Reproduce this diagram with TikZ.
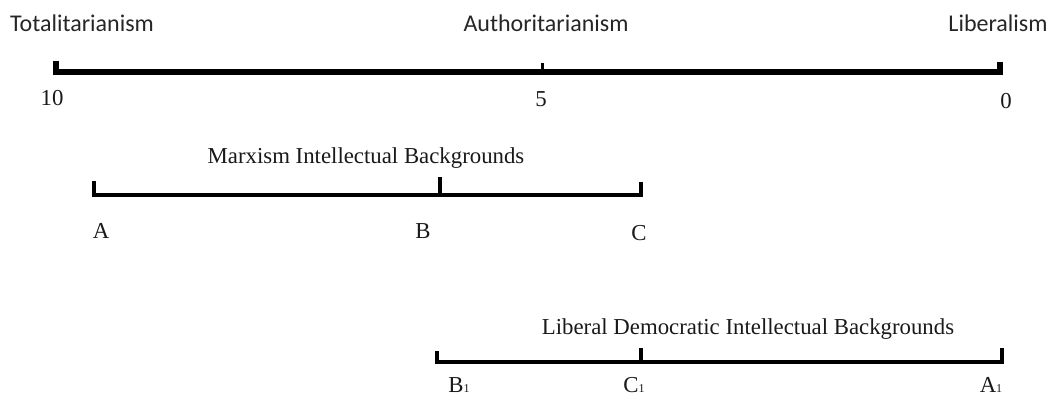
\documentclass[tikz,border=0pt]{standalone}
\usepackage{fontspec}
\setmainfont{Liberation Serif}
\newfontfamily\headfont{Carlito}
\begin{document}
\begin{tikzpicture}[x=1pt,y=-1pt,
  mainline/.style={line width=6pt,line join=miter,line cap=butt},
  subline/.style={line width=3.5pt,line join=miter,line cap=butt},
  head/.style={inner sep=0pt,anchor=base,font=\headfont\fontsize{24}{24}\selectfont,text=black!85},
  lab/.style={inner sep=0pt,anchor=base,font=\fontsize{22.8}{22.8}\selectfont,text=black!90}]
\useasboundingbox (0,0) rectangle (1054,398);
% main scale
\coordinate (m10top) at (55.5,61);
\coordinate (m10) at (55.5,72);
\coordinate (m5top) at (542,63);
\coordinate (m5) at (542,72);
\coordinate (m0) at (999.5,72);
\coordinate (m0top) at (999.5,62);
\draw[mainline] (m10top) -- (m10) -- (m0) -- (m0top);
\draw[line width=3pt] (m5) -- (m5top);
\node[head] (tot) at (82,32) {Totalitarianism};
\node[head] (aut) at (546,32) {Authoritarianism};
\node[head] (lib) at (998,32) {Liberalism};
\node[lab] (n10) at (52,106) {10};
\node[lab] (n5) at (541,107) {5};
\node[lab] (n0) at (1006,109) {0};
% Marxism
\coordinate (atop) at (94,181);
\coordinate (a) at (94,195);
\coordinate (btop) at (440,177);
\coordinate (b) at (440,195);
\coordinate (c) at (641,195);
\coordinate (ctop) at (641,182);
\draw[subline] (atop) -- (a) -- (c) -- (ctop);
\draw[subline] (b) -- (btop);
\node[lab] (mx) at (366,164) {Marxism Intellectual Backgrounds};
\node[lab] (la) at (101,238) {A};
\node[lab] (lb) at (423,238) {B};
\node[lab] (lc) at (639,240) {C};
% Liberal democratic
\coordinate (b1top) at (437,351);
\coordinate (b1) at (437,362);
\coordinate (c1top) at (641,348);
\coordinate (c1) at (641,362);
\coordinate (a1) at (1002,362);
\coordinate (a1top) at (1002,348);
\draw[subline] (b1top) -- (b1) -- (a1) -- (a1top);
\draw[subline] (c1) -- (c1top);
\node[lab] (ld) at (748,334) {Liberal Democratic Intellectual Backgrounds};
\node[lab] (lb1) at (459,392) {B{\fontsize{12}{12}\selectfont 1}};
\node[lab] (lc1) at (634,392) {C{\fontsize{12}{12}\selectfont 1}};
\node[lab] (la1) at (991,392) {A{\fontsize{12}{12}\selectfont 1}};
\end{tikzpicture}
\end{document}
